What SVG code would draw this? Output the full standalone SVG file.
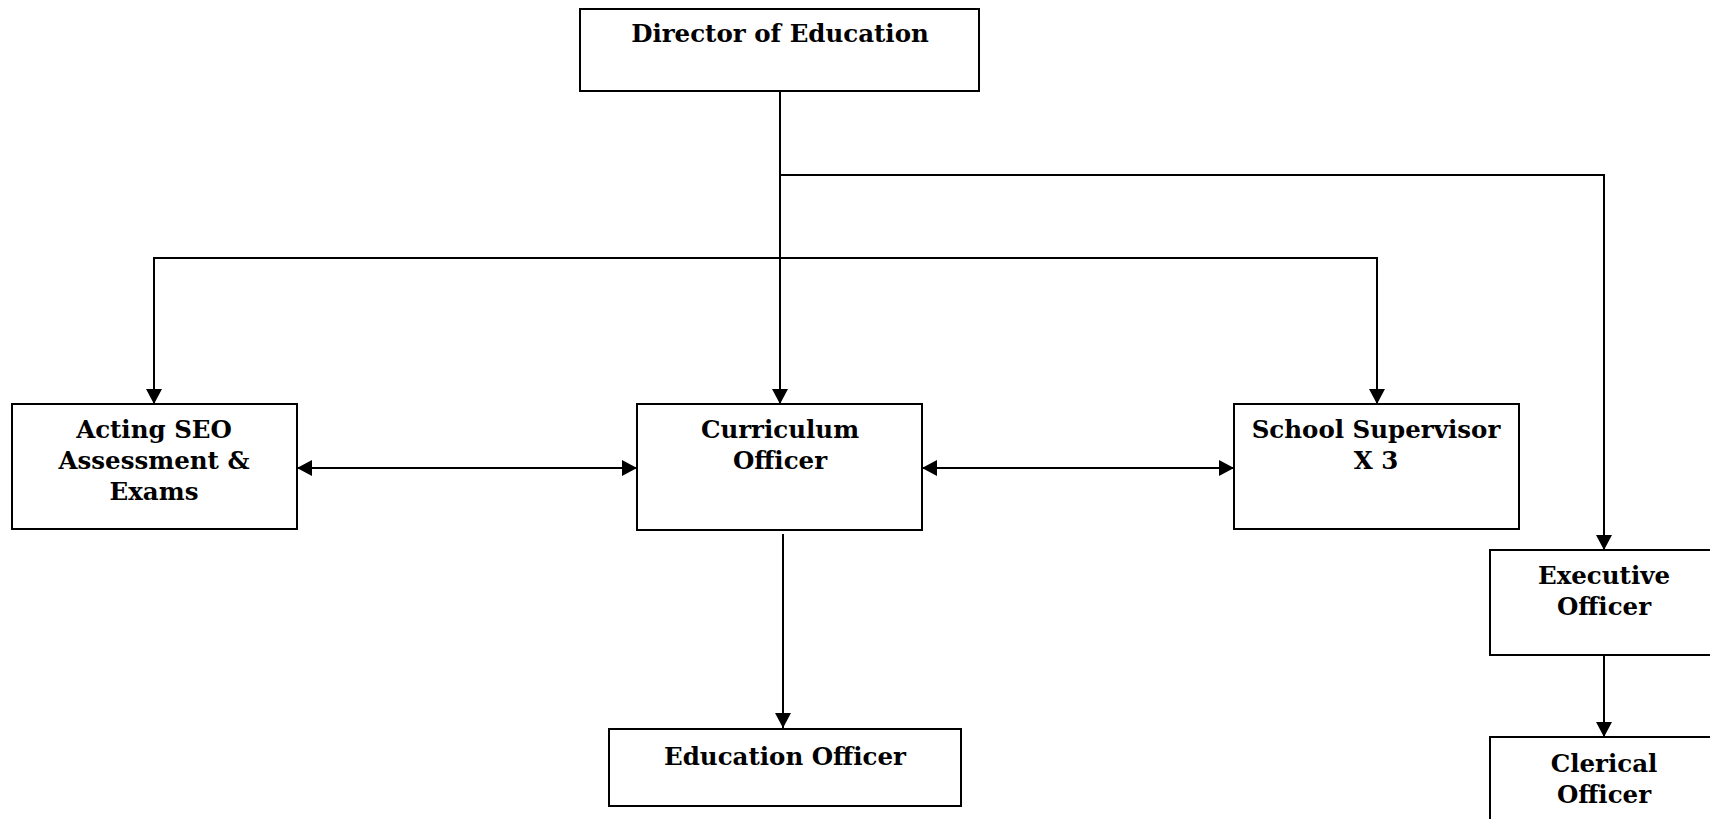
<svg xmlns="http://www.w3.org/2000/svg" width="1710" height="819" viewBox="0 0 1710 819">
<style>
.box{fill:#fff;stroke:#000;stroke-width:2}
.lbl{font-family:"DejaVu Serif","Liberation Serif",serif;font-weight:bold;font-size:24.5px;fill:#000;text-anchor:middle}
.con{fill:none;stroke:#000;stroke-width:2}
</style>
<defs>
<marker id="arr" markerUnits="userSpaceOnUse" markerWidth="16" markerHeight="16" refX="15" refY="8" orient="auto-start-reverse" viewBox="0 0 16 16">
<path d="M0,0 L15,8 L0,16 z" fill="#000"/>
</marker>
</defs>
<rect width="1710" height="819" fill="#fff"/>
<g id="connectors">
<path class="con" d="M780,91 V404" marker-end="url(#arr)"/>
<path class="con" d="M780,175 H1604 V550" marker-end="url(#arr)"/>
<path class="con" d="M154,404 V258 H1377 V404" marker-start="url(#arr)" marker-end="url(#arr)"/>
<path class="con" d="M297,468 H637" marker-start="url(#arr)" marker-end="url(#arr)"/>
<path class="con" d="M922,468 H1234" marker-start="url(#arr)" marker-end="url(#arr)"/>
<path class="con" d="M783,534 V728" marker-end="url(#arr)"/>
<path class="con" d="M1604,655 V737" marker-end="url(#arr)"/>
</g>
<g id="director">
<rect class="box" x="580" y="9" width="399" height="82"/>
<text class="lbl" x="780" y="42">Director of Education</text>
</g>
<g id="acting-seo">
<rect class="box" x="12" y="404" width="285" height="125"/>
<text class="lbl" x="154" y="438">Acting SEO</text>
<text class="lbl" x="154" y="469">Assessment &amp;</text>
<text class="lbl" x="154" y="500">Exams</text>
</g>
<g id="curriculum">
<rect class="box" x="637" y="404" width="285" height="126"/>
<text class="lbl" x="780" y="438">Curriculum</text>
<text class="lbl" x="780" y="469">Officer</text>
</g>
<g id="school-supervisor">
<rect class="box" x="1234" y="404" width="285" height="125"/>
<text class="lbl" x="1376" y="438">School Supervisor</text>
<text class="lbl" x="1376" y="469">X 3</text>
</g>
<g id="education-officer">
<rect class="box" x="609" y="729" width="352" height="77"/>
<text class="lbl" x="785" y="765">Education Officer</text>
</g>
<g id="executive-officer">
<rect class="box" x="1490" y="550" width="230" height="105"/>
<text class="lbl" x="1604" y="584">Executive</text>
<text class="lbl" x="1604" y="615">Officer</text>
</g>
<g id="clerical-officer">
<rect class="box" x="1490" y="737" width="230" height="100"/>
<text class="lbl" x="1604" y="772">Clerical</text>
<text class="lbl" x="1604" y="803">Officer</text>
</g>
</svg>
